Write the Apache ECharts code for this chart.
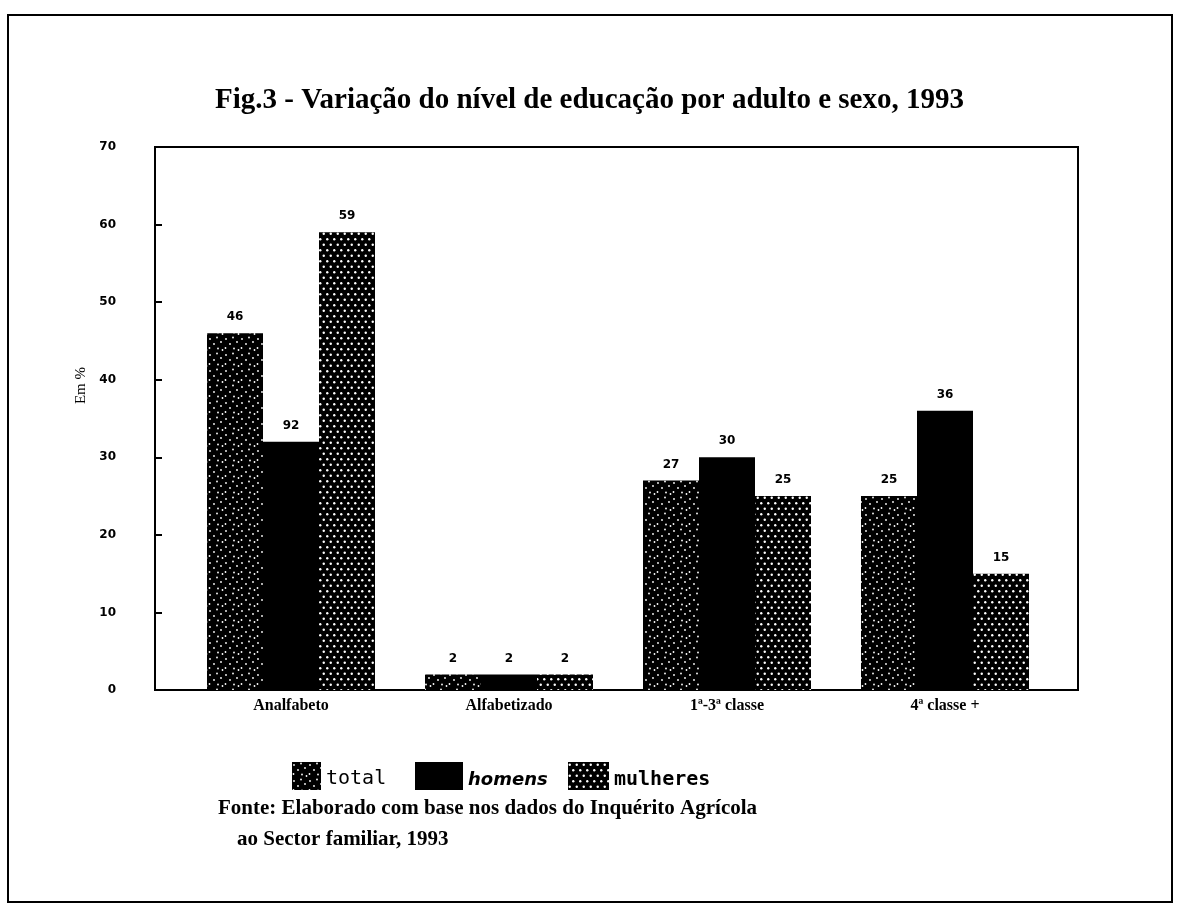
<!DOCTYPE html>
<html>
<head>
<meta charset="utf-8">
<script src="https://cdn.jsdelivr.net/npm/echarts@6/dist/echarts.min.js"></script>
<style>
  html, body { margin: 0; padding: 0; background: #fff; }
  #grafico { width: 1179px; height: 913px; }
</style>
</head>
<body>
<div id="grafico"></div>
<script>
// dados
const categorias = ['Analfabeto', 'Alfabetizado', '1ª-3ª classe', '4ª classe +'];
const valoresTotal = [46, 2, 27, 25];
const valoresHomens = [32, 2, 30, 36];
const valoresMulheres = [59, 2, 25, 15];
// rótulo impresso sobre as barras dos homens (o 32 saiu como "92")
const rotulosHomens = ['92', '2', '30', '36'];
const ticksY = [0, 10, 20, 30, 40, 50, 60, 70];

// padrões de preenchimento (preto com pontos brancos)
function padrao (larg, alt, pontos, raio) {
    const c = document.createElement('canvas');
    c.width = larg;
    c.height = alt;
    const ctx = c.getContext('2d');
    ctx.fillStyle = '#000';
    ctx.fillRect(0, 0, larg, alt);
    ctx.fillStyle = '#fff';
    pontos.forEach(p => {
        ctx.beginPath();
        ctx.arc(p[0], p[1], raio, 0, Math.PI * 2);
        ctx.fill();
    });
    return { image: c, repeat: 'repeat' };
}
const corTotal = padrao(16, 16, [[2, 3], [9, 1.5], [13, 6], [6, 8], [1.5, 12], [10, 12.5], [14.5, 14]], 0.9);
const corMulheres = padrao(7, 11, [[1.75, 2.7], [5.25, 8.2]], 1.2);
const corHomens = '#000';

const fonteSerif = 'Liberation Serif, Times New Roman, serif';
const rotuloBarra = { show: true, position: 'top', distance: 10, fontFamily: 'DejaVu Sans', fontWeight: 'bold', fontSize: 12, color: '#000' };

let grafico = echarts.init(document.getElementById('grafico'));
grafico.setOption({
    animation: false,
    backgroundColor: '#fff',
    title: [{
        text: 'Fig.3 - Variação do nível de educação por adulto e sexo, 1993',
        left: 'center',
        top: 81,
        textStyle: { fontFamily: fonteSerif, fontWeight: 'bold', fontSize: 29, color: '#000' }
    }, {
        text: 'Fonte: Elaborado com base nos dados do Inquérito Agrícola',
        left: 213,
        top: 793,
        textStyle: { fontFamily: fonteSerif, fontWeight: 'bold', fontSize: 21, color: '#000' }
    }, {
        text: 'ao Sector familiar, 1993',
        left: 232,
        top: 824,
        textStyle: { fontFamily: fonteSerif, fontWeight: 'bold', fontSize: 21, color: '#000' }
    }],
    legend: [{
        data: ['total'],
        left: 287, top: 757,
        icon: 'rect',
        itemWidth: 29, itemHeight: 28,
        formatter: '{t|{name}}',
        textStyle: { rich: { t: { fontFamily: 'DejaVu Sans Mono', fontSize: 20, color: '#000', padding: [6, 0, 0, 0] } } }
    }, {
        data: ['homens'],
        left: 410, top: 757,
        icon: 'rect',
        itemWidth: 48, itemHeight: 28,
        formatter: '{h|{name}}',
        textStyle: { rich: { h: { fontFamily: 'DejaVu Sans', fontWeight: 'bold', fontStyle: 'italic', fontSize: 18, color: '#000', padding: [8, 0, 0, 0] } } }
    }, {
        data: ['mulheres'],
        left: 563, top: 757,
        icon: 'rect',
        itemWidth: 41, itemHeight: 28,
        formatter: '{m|{name}}',
        textStyle: { rich: { m: { fontFamily: 'DejaVu Sans Mono', fontWeight: 'bold', fontSize: 20, color: '#000', padding: [8, 0, 0, 0] } } }
    }],
    grid: [
        { left: 155, right: 101, top: 147, bottom: 223, show: true, borderColor: '#000', borderWidth: 2 },
        { left: 182, right: 125, top: 147, bottom: 223 }
    ],
    xAxis: [{
        gridIndex: 0, type: 'value', show: false, min: 0, max: 1
    }, {
        gridIndex: 1,
        type: 'category',
        data: categorias,
        axisLine: { show: false },
        axisTick: { show: false },
        axisLabel: { margin: 8, fontFamily: fonteSerif, fontWeight: 'bold', fontSize: 16, color: '#000' }
    }],
    yAxis: [{
        gridIndex: 0,
        type: 'value',
        min: 0, max: 70, interval: 10,
        name: 'Em %',
        nameLocation: 'middle',
        nameGap: 62,
        nameTextStyle: { fontFamily: fonteSerif, fontSize: 15, color: '#000', padding: [0, 0, 0, 66] },
        axisLine: { show: true, lineStyle: { color: '#000', width: 2 } },
        axisTick: { show: true, inside: true, length: 7, lineStyle: { color: '#000', width: 2 } },
        axisLabel: {
            margin: 39,
            fontFamily: 'DejaVu Sans', fontWeight: 'bold', fontSize: 12, color: '#000',
            formatter: v => ticksY.includes(v) ? String(v) : ''
        },
        splitLine: { show: false }
    }, {
        gridIndex: 1, type: 'value', min: 0, max: 70, show: false
    }],
    series: [{
        name: 'total',
        type: 'bar',
        xAxisIndex: 1, yAxisIndex: 1,
        data: valoresTotal,
        barWidth: 56,
        barGap: '0%',
        itemStyle: { color: corTotal },
        label: rotuloBarra
    }, {
        name: 'homens',
        type: 'bar',
        xAxisIndex: 1, yAxisIndex: 1,
        data: valoresHomens,
        barWidth: 56,
        barGap: '0%',
        itemStyle: { color: corHomens },
        label: Object.assign({}, rotuloBarra, { formatter: p => rotulosHomens[p.dataIndex] })
    }, {
        name: 'mulheres',
        type: 'bar',
        xAxisIndex: 1, yAxisIndex: 1,
        data: valoresMulheres,
        barWidth: 56,
        barGap: '0%',
        itemStyle: { color: corMulheres },
        label: rotuloBarra
    }],
    graphic: [{
        type: 'rect',
        shape: { x: 8, y: 15, width: 1164, height: 887 },
        style: { fill: 'none', stroke: '#000', lineWidth: 2 },
        silent: true
    }]
});
</script>
</body>
</html>
